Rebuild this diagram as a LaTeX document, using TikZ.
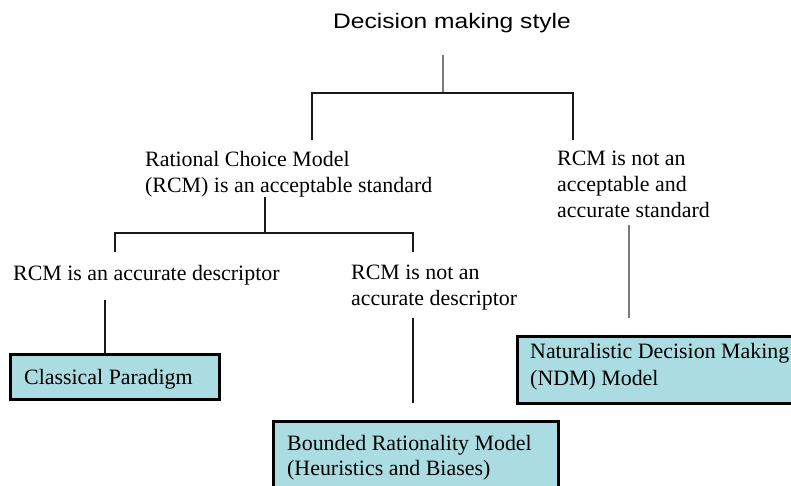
\documentclass[tikz,border=0pt]{standalone}
\usepackage{fontspec}
\setmainfont{Liberation Serif}
\newfontfamily\headfont[FakeStretch=1.17]{Liberation Sans}
\definecolor{boxblue}{RGB}{170,220,226}
\definecolor{softline}{RGB}{120,120,125}
\begin{document}
\begin{tikzpicture}[x=1pt,y=-1pt,
  lbl/.style={inner sep=0pt, align=left, anchor=base west,
    font=\fontsize{21.9}{26}\selectfont},
  modelbox/.style={draw=black, line width=3pt, fill=boxblue,
    inner sep=0pt, anchor=north west},
  link/.style={draw=black!90, line width=1.4pt},
  softlink/.style={draw=softline, line width=1.1pt}]
\clip (0,0) rectangle (791,486);
\fill[white] (0,0) rectangle (791,486);

% title
\node[inner sep=0pt, anchor=base west, font=\headfont\fontsize{21}{24}\selectfont]
  (title) at (333,29) {Decision making style};

% second level (anchors sit on the last baseline)
\node[lbl] (acc) at (145,193) {Rational Choice Model\\(RCM) is an acceptable standard};
\node[lbl] (notacc) at (557,218) {RCM is not an\\acceptable and\\accurate standard};

% third level
\node[lbl] (desc) at (13,280) {RCM is an accurate descriptor};
\node[lbl] (notdesc) at (351,305) {RCM is not an\\accurate descriptor};

% model boxes
\node[modelbox, minimum width=209pt, minimum height=45pt] (cpbox) at (9,353) {};
\node[lbl] (cp) at (24,384) {Classical Paradigm};
\node[modelbox, minimum width=285pt, minimum height=80pt] (brbox) at (272,420) {};
\node[lbl, font=\fontsize{21.9}{25}\selectfont] (br) at (287,475)
  {Bounded Rationality Model\\(Heuristics and Biases)};
\node[modelbox, minimum width=300pt, minimum height=67pt] (ndmbox) at (516,335) {};
\node[lbl, font=\fontsize{21.9}{27}\selectfont] (ndm) at (530,385)
  {Naturalistic Decision Making\\(NDM) Model};

% line ends
\coordinate (s0) at (443,55);
\coordinate (j0) at (443,93);
\coordinate (a1) at (312,140);
\coordinate (b1) at (573,140);
\coordinate (s1) at (265,197);
\coordinate (j1) at (265,233);
\coordinate (a2) at (115,252);
\coordinate (b2) at (413,252);
\coordinate (c1) at (105,300);
\coordinate (c2) at (413,318);
\coordinate (d2) at (413,403);
\coordinate (c3) at (629,225);
\coordinate (d3) at (629,318);

% connectors
\draw[softlink] (s0) -- (j0);
\draw[link] (a1) -- (a1 |- j0) -- (b1 |- j0) -- (b1);
\draw[link] (s1) -- (j1);
\draw[link] (a2) -- (a2 |- j1) -- (b2 |- j1) -- (b2);
\draw[link] (c1) -- (c1 |- cpbox.north);
\draw[link] (c2) -- (d2);
\draw[softlink] (c3) -- (d3);
\end{tikzpicture}
\end{document}
